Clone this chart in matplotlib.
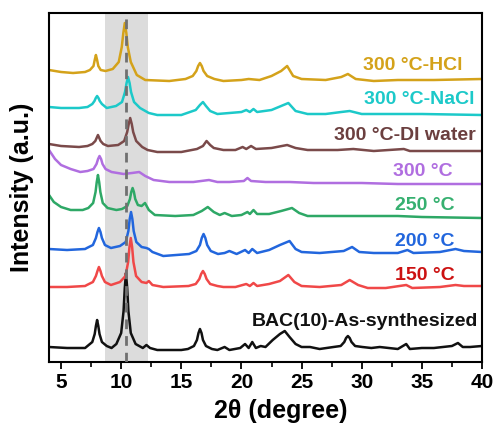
import matplotlib
matplotlib.use("Agg")
import matplotlib.pyplot as plt
from matplotlib.ticker import MultipleLocator

plt.rcParams['font.family'] = ['Liberation Sans', 'DejaVu Sans']
plt.rcParams['font.weight'] = 'bold'

# ---------------- data (2theta in degree, stacked intensity a.u.) ----------------
labels = ["BAC(10)-As-synthesized", "150 °C", "200 °C", "250 °C", "300 °C",
          "300 °C-DI water", "300 °C-NaCl", "300 °C-HCl"]

x_asyn = [4.0, 5.5, 7.0, 7.2, 7.6, 7.8, 7.9, 8.0, 8.1, 8.2, 8.4, 8.8, 9.2, 9.6, 10.0,
          10.2, 10.3, 10.4, 10.5, 10.6, 10.8, 11.2, 11.8, 12.1, 12.4, 13.0, 15.0, 15.55, 16.05,
          16.3, 16.43, 16.55, 16.68, 16.8, 17.05, 17.55, 18.0, 18.6, 19.0, 19.9, 20.3, 20.6,
          20.9, 21.2, 21.6, 22.0, 22.6, 23.2, 23.6, 24.0, 24.5, 25.0, 25.7, 26.5, 27.65, 28.25,
          28.55, 28.7, 28.85, 29.0, 29.15, 29.45, 30.05, 30.8, 31.5, 33.0, 33.7, 34.0, 35.0,
          36.0, 37.5, 38.0, 38.4, 39.0, 40.0]
y_asyn = [15, 14, 14, 16, 20, 28, 36, 42, 36, 28, 20, 16, 14, 18, 29,
          51, 74, 89, 74, 51, 29, 18, 14, 17, 14, 12, 12, 13, 16,
          22, 29, 33, 29, 22, 16, 13, 12, 15, 12, 14, 18, 14,
          20, 14, 16, 15, 22, 28, 31, 25, 18, 15, 15, 13, 15, 16,
          20, 24, 26, 24, 20, 16, 15, 14, 15, 13, 18, 13, 14,
          14, 16, 19, 15, 15, 16]

x_150 = [4.0, 5.5, 7.0, 7.15, 7.65, 7.9, 8.03, 8.15, 8.28, 8.4, 8.65, 9.15, 9.9, 10.36, 10.58,
         10.69, 10.8, 10.91, 11.02, 11.24, 11.7, 12.1, 12.3, 12.6, 13.5, 15.6, 16.2, 16.5,
         16.65, 16.8, 16.95, 17.1, 17.4, 18.0, 18.5, 19.5, 20.4, 20.7, 21.0, 21.3, 22.3, 23.2,
         23.9, 24.4, 25.0, 26.5, 28.3, 29.0, 29.7, 30.5, 32.0, 33.7, 34.2, 36.5, 37.8, 38.5,
         40.0]
y_150 = [75, 75, 76, 77, 80, 86, 91, 95, 91, 86, 80, 77, 80, 86, 100,
         115, 124, 115, 100, 86, 80, 79, 81, 77, 75, 76, 78, 83,
         88, 91, 88, 83, 78, 76, 75, 75, 78, 76, 79, 76, 78, 81,
         87, 80, 76, 75, 77, 82, 77, 74, 74, 77, 74, 75, 77, 76,
         76]

x_200 = [4.0, 5.5, 7.0, 7.15, 7.65, 7.9, 8.03, 8.15, 8.28, 8.4, 8.65, 9.15, 9.9, 10.38, 10.6,
         10.71, 10.82, 10.93, 11.04, 11.26, 11.7, 12.1, 12.3, 12.6, 13.5, 15.65, 16.25, 16.55,
         16.7, 16.85, 17.0, 17.15, 17.45, 18.05, 18.6, 19.0, 19.6, 20.3, 20.6, 20.9, 21.3, 22.3,
         23.2, 24.0, 24.5, 25.0, 26.5, 28.5, 29.2, 29.8, 31.0, 33.0, 33.8, 34.3, 36.5, 37.8,
         38.5, 40.0]
y_200 = [113, 112, 113, 114, 117, 124, 130, 134, 130, 124, 117, 114, 116, 120, 131,
         143, 150, 143, 131, 120, 115, 114, 113, 110, 106, 108, 111, 117,
         124, 128, 124, 117, 111, 108, 109, 111, 108, 112, 109, 113, 109, 112,
         117, 121, 113, 110, 109, 111, 115, 110, 109, 109, 112, 109, 110, 113,
         111, 110]

x_250 = [4.0, 4.4, 5.0, 5.8, 6.8, 7.27, 7.67, 7.87, 7.97, 8.07, 8.17, 8.27, 8.47, 8.87, 9.6,
         10.07, 10.51, 10.73, 10.84, 10.95, 11.06, 11.17, 11.39, 11.7, 11.98, 12.3, 12.8, 14.5,
         16.0, 16.7, 17.2, 17.7, 18.2, 18.6, 19.2, 20.0, 20.5, 20.7, 21.0, 21.3, 22.3, 23.3,
         24.2, 24.8, 25.5, 28.0, 30.0, 33.0, 35.0, 40.0]
y_250 = [167, 160, 155, 152, 152, 154, 159, 170, 180, 187, 180, 170, 159, 154, 152,
         153, 156, 163, 170, 174, 170, 163, 157, 156, 159, 152, 147, 146,
         147, 151, 155, 150, 147, 149, 146, 147, 150, 148, 152, 148, 148, 151,
         154, 149, 146, 146, 146, 146, 145, 144]

x_300 = [4.0, 4.5, 5.0, 5.8, 6.6, 7.2, 7.7, 7.95, 8.08, 8.2, 8.33, 8.45, 8.7, 9.2, 10.2,
         10.9, 11.5, 12.0, 12.7, 14.0, 16.0, 17.3, 18.0, 19.0, 20.2, 20.5, 20.8, 22.0, 24.0,
         26.0, 28.0, 30.0, 33.0, 36.0, 40.0]
y_300 = [212, 203, 197, 193, 190, 191, 193, 198, 203, 206, 203, 198, 193, 190, 188,
         189, 190, 186, 182, 180, 180, 182, 180, 180, 181, 184, 181, 180, 180,
         179, 179, 179, 178, 178, 178]

x_di = [4.0, 5.0, 6.5, 7.2, 7.6, 7.85, 7.96, 8.07, 8.18, 8.29, 8.51, 8.9, 9.75, 10.25, 10.5,
        10.63, 10.75, 10.88, 11.0, 11.25, 11.75, 12.2, 13.0, 15.0, 16.3, 16.8, 17.1, 17.4,
        17.7, 18.5, 19.5, 20.1, 20.4, 20.8, 21.2, 22.5, 23.8, 24.5, 25.5, 28.0, 29.3, 31.0,
        33.5, 34.0, 37.0, 40.0]
y_di = [218, 216, 215, 216, 218, 221, 224, 227, 224, 221, 218, 216, 217, 221, 230,
        238, 244, 238, 230, 221, 215, 212, 210, 210, 213, 216, 221, 217,
        214, 212, 212, 215, 213, 216, 213, 214, 217, 214, 212, 212, 213, 211,
        213, 211, 211, 211]

x_nacl = [4.0, 5.0, 6.5, 7.2, 7.6, 7.78, 7.89, 8.0, 8.11, 8.22, 8.4, 8.8, 9.57, 10.07, 10.32,
          10.45, 10.57, 10.7, 10.82, 11.07, 11.57, 12.3, 13.0, 15.0, 16.2, 16.55, 16.8, 17.05,
          17.4, 18.0, 19.0, 20.0, 20.4, 20.7, 21.0, 21.3, 22.5, 23.3, 23.9, 24.5, 25.5, 27.0,
          28.3, 29.0, 30.0, 33.0, 35.0, 40.0]
y_nacl = [255, 254, 254, 255, 258, 261, 264, 266, 264, 261, 258, 254, 256, 260, 270,
          279, 285, 279, 270, 260, 254, 249, 247, 247, 252, 257, 260, 256,
          251, 248, 249, 250, 252, 250, 253, 250, 252, 256, 259, 251, 248, 248,
          250, 251, 248, 248, 248, 247]

x_hcl = [4.0, 5.0, 6.0, 7.0, 7.4, 7.7, 7.8, 7.9, 8.0, 8.1, 8.3, 8.7, 9.3, 9.8, 10.05,
         10.18, 10.3, 10.43, 10.55, 10.8, 11.3, 12.0, 14.0, 15.35, 15.95, 16.25, 16.4, 16.55,
         16.7, 16.85, 17.15, 17.75, 18.5, 20.0, 20.6, 21.5, 22.5, 23.3, 23.8, 24.3, 25.0, 27.0,
         28.3, 28.85, 29.5, 31.0, 33.0, 36.0, 40.0]
y_hcl = [292, 290, 289, 290, 292, 296, 302, 307, 302, 296, 292, 291, 293, 300, 315,
         329, 339, 329, 315, 300, 287, 282, 281, 283, 286, 291, 296, 299,
         296, 291, 286, 283, 281, 282, 283, 282, 286, 291, 296, 286, 283, 282,
         285, 288, 283, 281, 282, 282, 283]

xs = [x_asyn, x_150, x_200, x_250, x_300, x_di, x_nacl, x_hcl]
ys = [y_asyn, y_150, y_200, y_250, y_300, y_di, y_nacl, y_hcl]

shade_range = (8.65, 12.2)
ref_peak = 10.37

# ---------------- style ----------------
line_colors = ["#111111", "#F04848", "#2266DD", "#2EA866", "#B06EE0",
               "#7A4A4A", "#1CC9C9", "#D4A21A"]
text_colors = ["#111111", "#CC1111", "#2266DD", "#36B070", "#B06EE0",
               "#6B3F3F", "#1CC9C9", "#D4A21A"]
label_pos = [(39.66, 41), (37.75, 86), (37.75, 121), (37.75, 157), (37.58, 191),
             (39.49, 227), (39.41, 262), (38.41, 297)]

fig = plt.figure(figsize=(4.97, 4.24), dpi=100)
ax = fig.add_axes([49 / 497, 62 / 424, 433 / 497, 349 / 424])

ax.axvspan(shade_range[0], shade_range[1], color="#DCDCDC", zorder=0, lw=0)
for x, y, c in zip(xs, ys, line_colors):
    ax.plot(x, y, color=c, lw=1.8, zorder=2, solid_joinstyle='round')
ax.axvline(ref_peak, color="#707070", lw=2, ls=(0, (3.5, 2.5)), zorder=3)

for lab, (lx, ly), c in zip(labels, label_pos, text_colors):
    ax.text(lx, ly, lab, color=c, fontsize=14, fontweight='bold', ha='right', va='center')

ax.set_xlim(4, 40)
ax.set_ylim(0, 349)
ax.xaxis.set_major_locator(MultipleLocator(5))
ax.xaxis.set_minor_locator(MultipleLocator(2.5))
ax.tick_params(axis='x', which='major', direction='out', length=5, width=1.3,
               labelsize=15, pad=3)
ax.tick_params(axis='x', which='minor', direction='out', length=3.5, width=1.2)
ax.set_yticks([])
for s in ax.spines.values():
    s.set_linewidth(1.5)
for lbl in ax.get_xticklabels():
    lbl.set_fontweight('bold')

ax.set_xlabel("2θ (degree)", fontsize=18, fontweight='bold')
ax.xaxis.set_label_coords(0.536, -0.105)
ax.set_ylabel("Intensity (a.u.)", fontsize=18, fontweight='bold')
ax.yaxis.set_label_coords(-0.035, 0.5)

fig.savefig("out.png", dpi=100)
